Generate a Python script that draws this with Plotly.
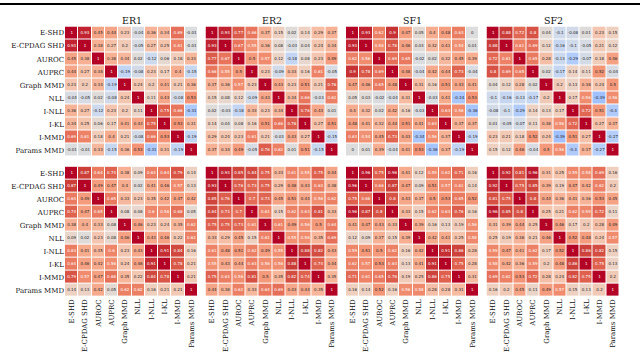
import plotly.graph_objects as go
import numpy as np

metrics = ["E-SHD", "E-CPDAG SHD", "AUROC", "AUPRC", "Graph MMD",
           "NLL", "I-NLL", "I-KL", "I-MMD", "Params MMD"]
panel_titles = ["ER1", "ER2", "SF1", "SF2"]

er1_top = [
    [1, 0.93, 0.45, 0.44, 0.23, -0.04, 0.36, 0.34, 0.69, -0.01],
    [0.93, 1, 0.38, 0.27, 0.2, -0.05, 0.27, 0.25, 0.61, -0.01],
    [0.45, 0.38, 1, 0.38, 0.34, 0.02, -0.12, 0.06, 0.18, 0.33],
    [0.44, 0.27, 0.38, 1, -0.19, -0.08, 0.23, 0.17, 0.4, -0.15],
    [0.23, 0.2, 0.34, -0.19, 1, 0.24, 0.2, 0.41, 0.21, 0.36],
    [-0.04, -0.05, 0.02, -0.08, 0.24, 1, 0.11, 0.43, -0.08, 0.53],
    [0.36, 0.27, -0.12, 0.23, 0.2, 0.11, 1, 0.75, 0.66, -0.31],
    [0.34, 0.25, 0.06, 0.17, 0.41, 0.43, 0.75, 1, 0.53, 0.31],
    [0.69, 0.61, 0.18, 0.4, 0.21, -0.08, 0.66, 0.53, 1, -0.19],
    [-0.01, -0.01, 0.33, -0.15, 0.36, 0.53, -0.31, 0.31, -0.19, 1],
]
er2_top = [
    [1, 0.93, 0.77, 0.66, 0.37, 0.15, 0.02, 0.14, 0.29, 0.37],
    [0.93, 1, 0.67, 0.55, 0.36, 0.08, -0.03, 0.04, 0.24, 0.34],
    [0.77, 0.67, 1, 0.5, 0.57, 0.12, -0.18, 0.08, 0.23, 0.49],
    [0.66, 0.55, 0.5, 1, 0.23, -0.09, 0.33, 0.16, 0.61, -0.05],
    [0.37, 0.36, 0.57, 0.23, 1, 0.43, 0.23, 0.51, 0.21, 0.76],
    [0.15, 0.08, 0.12, -0.09, 0.43, 1, 0.34, 0.66, -0.03, 0.62],
    [0.02, -0.03, -0.18, 0.33, 0.23, 0.34, 1, 0.76, 0.43, 0.01],
    [0.14, 0.04, 0.08, 0.16, 0.51, 0.66, 0.76, 1, 0.27, 0.51],
    [0.29, 0.24, 0.23, 0.61, 0.21, -0.03, 0.43, 0.27, 1, -0.15],
    [0.37, 0.34, 0.49, -0.05, 0.76, 0.62, 0.01, 0.51, -0.15, 1],
]
sf1_top = [
    [1, 0.93, 0.62, 0.9, 0.47, 0.05, 0.4, 0.48, 0.63, 0],
    [0.93, 1, 0.56, 0.78, 0.46, 0.03, 0.32, 0.41, 0.54, 0.01],
    [0.62, 0.56, 1, 0.69, 0.65, -0.02, 0.02, 0.32, 0.45, 0.39],
    [0.9, 0.78, 0.69, 1, 0.48, -0.04, 0.42, 0.44, 0.73, -0.04],
    [0.47, 0.46, 0.65, 0.48, 1, 0.31, 0.16, 0.51, 0.43, 0.41],
    [0.05, 0.03, -0.02, -0.04, 0.31, 1, -0.03, 0.41, -0.34, 0.53],
    [0.4, 0.32, 0.02, 0.42, 0.16, -0.03, 1, 0.63, 0.56, -0.36],
    [0.48, 0.41, 0.32, 0.44, 0.51, 0.41, 0.63, 1, 0.37, 0.37],
    [0.63, 0.54, 0.45, 0.73, 0.43, -0.34, 0.56, 0.37, 1, -0.19],
    [0, 0.01, 0.39, -0.04, 0.41, 0.53, -0.36, 0.37, -0.19, 1],
]
sf2_top = [
    [1, 0.88, 0.72, 0.8, 0.04, -0.1, -0.08, 0.01, 0.23, 0.15],
    [0.88, 1, 0.61, 0.69, 0.12, -0.16, -0.1, -0.05, 0.21, 0.12],
    [0.72, 0.61, 1, 0.65, 0.28, -0.13, -0.29, -0.07, 0.18, 0.46],
    [0.8, 0.69, 0.65, 1, 0.02, -0.17, 0.14, 0.11, 0.52, -0.04],
    [0.04, 0.12, 0.28, 0.02, 1, 0.2, 0.13, 0.38, 0.24, 0.5],
    [-0.1, -0.16, -0.13, -0.17, 0.2, 1, 0.17, 0.56, -0.39, 0.56],
    [-0.08, -0.1, -0.29, 0.14, 0.13, 0.17, 1, 0.72, 0.51, -0.3],
    [0.01, -0.05, -0.07, 0.11, 0.38, 0.56, 0.72, 1, 0.27, 0.37],
    [0.23, 0.21, 0.18, 0.52, 0.24, -0.39, 0.51, 0.27, 1, -0.27],
    [0.15, 0.12, 0.46, -0.04, 0.5, 0.56, -0.3, 0.37, -0.27, 1],
]
er1_bottom = [
    [1, 0.87, 0.64, 0.74, 0.38, 0.09, 0.63, 0.64, 0.79, 0.14],
    [0.87, 1, 0.49, 0.47, 0.4, 0.02, 0.41, 0.46, 0.57, 0.13],
    [0.64, 0.49, 1, 0.65, 0.33, 0.23, 0.35, 0.42, 0.47, 0.42],
    [0.74, 0.47, 0.65, 1, 0.08, 0.08, 0.6, 0.56, 0.68, 0.05],
    [0.38, 0.4, 0.33, 0.08, 1, 0.46, 0.23, 0.24, 0.35, 0.62],
    [0.09, 0.02, 0.23, 0.08, 0.46, 1, 0.43, 0.46, 0.22, 0.62],
    [0.63, 0.41, 0.35, 0.6, 0.23, 0.43, 1, 0.91, 0.84, 0.16],
    [0.64, 0.46, 0.42, 0.56, 0.24, 0.46, 0.91, 1, 0.78, 0.21],
    [0.79, 0.57, 0.47, 0.68, 0.35, 0.22, 0.84, 0.78, 1, 0.21],
    [0.14, 0.13, 0.42, 0.05, 0.62, 0.62, 0.16, 0.21, 0.21, 1],
]
er2_bottom = [
    [1, 0.93, 0.85, 0.84, 0.75, 0.33, 0.61, 0.55, 0.75, 0.44],
    [0.93, 1, 0.76, 0.73, 0.75, 0.29, 0.48, 0.43, 0.63, 0.38],
    [0.85, 0.76, 1, 0.7, 0.73, 0.45, 0.51, 0.44, 0.56, 0.62],
    [0.84, 0.73, 0.7, 1, 0.61, 0.15, 0.62, 0.63, 0.81, 0.33],
    [0.75, 0.75, 0.73, 0.61, 1, 0.61, 0.49, 0.56, 0.5, 0.64],
    [0.33, 0.29, 0.45, 0.15, 0.61, 1, 0.55, 0.56, 0.35, 0.69],
    [0.61, 0.48, 0.51, 0.62, 0.49, 0.55, 1, 0.88, 0.82, 0.43],
    [0.55, 0.43, 0.44, 0.63, 0.56, 0.56, 0.88, 1, 0.74, 0.44],
    [0.75, 0.63, 0.56, 0.81, 0.5, 0.35, 0.82, 0.74, 1, 0.35],
    [0.44, 0.38, 0.62, 0.33, 0.64, 0.69, 0.43, 0.44, 0.35, 1],
]
sf1_bottom = [
    [1, 0.96, 0.75, 0.96, 0.41, 0.12, 0.59, 0.62, 0.71, 0.16],
    [0.96, 1, 0.66, 0.87, 0.47, 0.09, 0.51, 0.57, 0.61, 0.14],
    [0.75, 0.66, 1, 0.8, 0.43, 0.37, 0.5, 0.53, 0.65, 0.52],
    [0.96, 0.87, 0.8, 1, 0.33, 0.15, 0.62, 0.63, 0.76, 0.16],
    [0.41, 0.47, 0.43, 0.33, 1, 0.39, 0.16, 0.13, 0.19, 0.56],
    [0.12, 0.09, 0.37, 0.15, 0.39, 1, 0.42, 0.41, 0.25, 0.58],
    [0.59, 0.51, 0.5, 0.62, 0.16, 0.42, 1, 0.91, 0.86, 0.28],
    [0.62, 0.57, 0.53, 0.63, 0.13, 0.41, 0.91, 1, 0.75, 0.28],
    [0.71, 0.61, 0.65, 0.76, 0.19, 0.25, 0.86, 0.75, 1, 0.31],
    [0.16, 0.14, 0.52, 0.16, 0.56, 0.58, 0.28, 0.28, 0.31, 1],
]
sf2_bottom = [
    [1, 0.92, 0.81, 0.96, 0.31, 0.25, 0.59, 0.58, 0.69, 0.16],
    [0.92, 1, 0.75, 0.85, 0.39, 0.19, 0.47, 0.42, 0.62, 0.2],
    [0.81, 0.75, 1, 0.8, 0.44, 0.36, 0.41, 0.36, 0.53, 0.45],
    [0.96, 0.85, 0.8, 1, 0.25, 0.21, 0.62, 0.59, 0.72, 0.11],
    [0.31, 0.39, 0.44, 0.25, 1, 0.46, 0.17, 0.2, 0.28, 0.49],
    [0.25, 0.19, 0.36, 0.21, 0.46, 1, 0.52, 0.48, 0.24, 0.57],
    [0.59, 0.47, 0.41, 0.62, 0.17, 0.52, 1, 0.86, 0.82, 0.15],
    [0.58, 0.42, 0.36, 0.59, 0.2, 0.48, 0.86, 1, 0.75, 0.13],
    [0.69, 0.62, 0.53, 0.72, 0.28, 0.24, 0.82, 0.75, 1, 0.2],
    [0.16, 0.2, 0.45, 0.11, 0.49, 0.57, 0.15, 0.13, 0.2, 1],
]

panels = [
    [er1_top, er2_top, sf1_top, sf2_top],
    [er1_bottom, er2_bottom, sf1_bottom, sf2_bottom],
]

# matplotlib "coolwarm"
cw = [
    (0.0, (0.2298, 0.2987, 0.7537)), (0.0625, (0.3039, 0.4065, 0.8450)),
    (0.125, (0.3830, 0.5094, 0.9174)), (0.1875, (0.4667, 0.6046, 0.9682)),
    (0.25, (0.5530, 0.6889, 0.9954)), (0.3125, (0.6392, 0.7596, 0.9982)),
    (0.375, (0.7222, 0.8140, 0.9766)), (0.4375, (0.7987, 0.8498, 0.9317)),
    (0.5, (0.8654, 0.8654, 0.8654)), (0.5625, (0.9241, 0.8274, 0.7745)),
    (0.625, (0.9589, 0.7698, 0.6780)), (0.6875, (0.9700, 0.6943, 0.5794)),
    (0.75, (0.9580, 0.6028, 0.4818)), (0.8125, (0.9239, 0.4973, 0.3880)),
    (0.875, (0.8692, 0.3783, 0.3003)), (0.9375, (0.7956, 0.2413, 0.2205)),
    (1.0, (0.7057, 0.0156, 0.1502)),
]
colorscale = [[p, "rgb(%d,%d,%d)" % tuple(round(c * 255) for c in rgb)] for p, rgb in cw]


def cmap(v):
    t = (v + 1) / 2
    ps = [p for p, _ in cw]
    return tuple(np.interp(t, ps, [rgb[i] for _, rgb in cw]) for i in range(3))


def text_color(v):
    rgb = np.array(cmap(v))
    lin = np.where(rgb <= 0.03928, rgb / 12.92, ((rgb + 0.055) / 1.055) ** 2.4)
    lum = 0.2126 * lin[0] + 0.7152 * lin[1] + 0.0722 * lin[2]
    return "rgb(38,38,38)" if lum > 0.408 else "white"


W, H = 640, 352
x_starts = [65, 205.5, 346, 486.5]
pw = 133
y_tops = [27, 170]
ph = 133
serif = "DejaVu Serif"

fig = go.Figure()
annotations = []
k = 0
for r in range(2):
    for c in range(4):
        k += 1
        sfx = "" if k == 1 else str(k)
        z = panels[r][c]
        fig.add_trace(go.Heatmap(
            z=z, x=metrics, y=metrics, zmin=-1, zmax=1, colorscale=colorscale,
            showscale=False, xgap=1, ygap=1, hoverinfo="skip",
            xaxis="x" + sfx, yaxis="y" + sfx))
        xs, ys, ts, cs = [], [], [], []
        for i in range(10):
            for j in range(10):
                v = z[i][j]
                xs.append(metrics[j]); ys.append(metrics[i])
                ts.append(format(v, ".2g")); cs.append(text_color(v))
        fig.add_trace(go.Scatter(
            x=xs, y=ys, text=ts, mode="text",
            textfont=dict(size=4, color=cs, family="DejaVu Sans"),
            hoverinfo="skip", showlegend=False,
            xaxis="x" + sfx, yaxis="y" + sfx))
        x0 = x_starts[c] / W
        x1 = (x_starts[c] + pw) / W
        y1 = 1 - y_tops[r] / H
        y0 = 1 - (y_tops[r] + ph) / H
        fig.update_layout(**{
            "xaxis" + sfx: dict(domain=[x0, x1], anchor="y" + sfx, type="category",
                                showgrid=False, zeroline=False, ticks="",
                                showticklabels=(r == 1), tickangle=-90,
                                tickfont=dict(family=serif, size=7, color="#111"),
                                range=[-0.5, 9.5]),
            "yaxis" + sfx: dict(domain=[y0, y1], anchor="x" + sfx, type="category",
                                showgrid=False, zeroline=False, ticks="",
                                showticklabels=(c == 0), range=[9.5, -0.5],
                                tickfont=dict(family=serif, size=7, color="#111")),
        })
        if r == 0:
            annotations.append(dict(
                text=panel_titles[c], x=(x0 + x1) / 2, y=1 - 21 / H,
                xref="paper", yref="paper", showarrow=False,
                xanchor="center", yanchor="middle",
                font=dict(family=serif, size=9.5, color="#111")))

fig.update_layout(
    width=W, height=H, margin=dict(l=0, r=0, t=0, b=0),
    paper_bgcolor="white", plot_bgcolor="white",
    annotations=annotations, showlegend=False,
    shapes=[dict(type="line", xref="paper", yref="paper", x0=0, x1=1,
                 y0=1 - 4 / H, y1=1 - 4 / H, layer="above",
                 line=dict(color="black", width=2))],
)
fig.write_html("out.html", config={"displayModeBar": False},
               post_script="document.body.style.margin='0';document.body.style.overflow='hidden';")
